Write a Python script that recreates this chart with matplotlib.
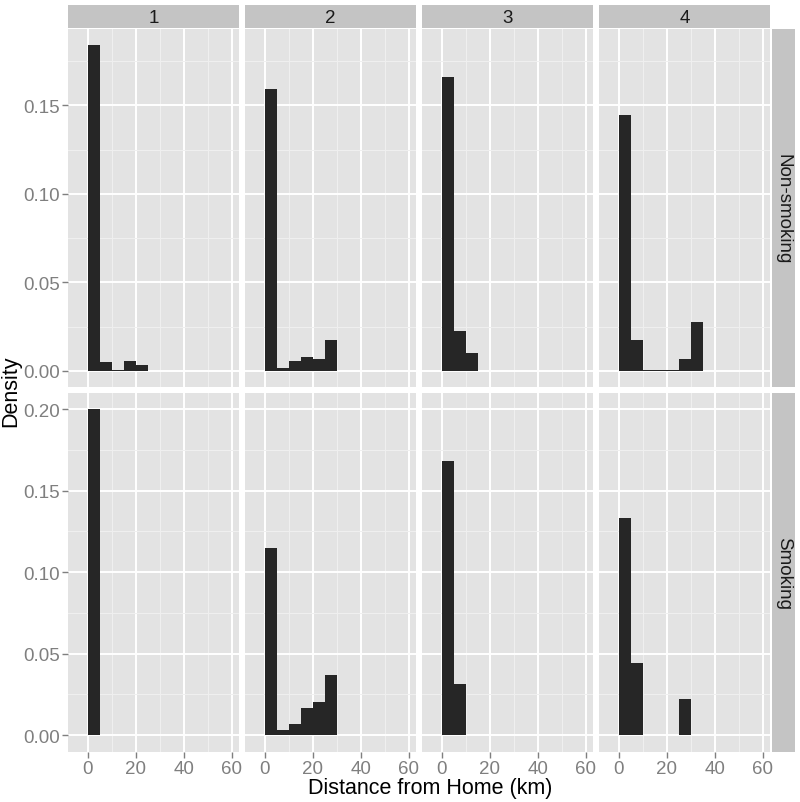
import numpy as np
import matplotlib.pyplot as plt

plt.rcParams['font.family'] = ['Liberation Sans', 'DejaVu Sans']

groups = ['1', '2', '3', '4']
rows = ['Non-smoking', 'Smoking']
bin_left = [0, 5, 10, 15, 20, 25, 30, 35, 40, 45]
binwidth = 5

# density of each 5 km bin
nonsmoking = [
    [0.184, 0.0049, 0.0006, 0.0053, 0.0034, 0, 0, 0, 0, 0],
    [0.159, 0.0013, 0.0055, 0.0079, 0.0066, 0.0174, 0, 0, 0, 0],
    [0.166, 0.0223, 0.0102, 0, 0, 0, 0, 0, 0, 0],
    [0.1444, 0.0174, 0.0002, 0.0002, 0.0002, 0.0066, 0.0276, 0.0001, 0.0001, 0.0001],
]
smoking = [
    [0.200, 0, 0, 0, 0, 0, 0, 0, 0, 0],
    [0.1149, 0.0029, 0.0066, 0.0168, 0.0201, 0.0370, 0, 0, 0, 0],
    [0.168, 0.0313, 0, 0, 0, 0, 0, 0, 0, 0],
    [0.1331, 0.0442, 0, 0, 0, 0.0219, 0, 0, 0, 0],
]
yticks_top = [0.00, 0.05, 0.10, 0.15]
yticks_bottom = [0.00, 0.05, 0.10, 0.15, 0.20]
xticks = [0, 20, 40, 60]

W, H = 800, 803
fig = plt.figure(figsize=(W / 100, H / 100), dpi=100)

panel_bg = '#E3E3E3'
strip_bg = '#C4C4C4'
bar_col = '#262626'
tick_col = '#7F7F7F'

col_x = [68, 245, 422, 599]
pw = 171
row_y = [(30, 388), (394, 753)]


def px(x0, y0, x1, y1):
    return [x0 / W, 1 - y1 / H, (x1 - x0) / W, (y1 - y0) / H]


for r, data in enumerate([nonsmoking, smoking]):
    yt = yticks_top if r == 0 else yticks_bottom
    ylim = (-0.0092, 0.1932) if r == 0 else (-0.0104, 0.210)
    for c in range(4):
        y0, y1 = row_y[r]
        ax = fig.add_axes(px(col_x[c], y0, col_x[c] + pw, y1))
        ax.set_facecolor(panel_bg)
        for s in ax.spines.values():
            s.set_visible(False)
        ax.set_xlim(-8.35, 63.1)
        ax.set_ylim(*ylim)
        ax.set_xticks(xticks)
        ax.set_xticks([10, 30, 50], minor=True)
        ax.set_yticks(yt)
        ax.set_yticks([v + 0.025 for v in yt if v + 0.025 < ylim[1]], minor=True)
        ax.grid(True, which='major', color='white', lw=1.4)
        ax.grid(True, which='minor', color='#F0F0F0', lw=0.7)
        ax.set_axisbelow(True)
        ax.tick_params(which='minor', length=0)
        ax.tick_params(which='major', color=tick_col, labelcolor=tick_col,
                       labelsize=13.5, length=4, width=1, pad=2)
        if c == 0:
            ax.set_yticklabels([f'{v:.2f}' for v in yt])
        else:
            ax.tick_params(axis='y', which='major', length=0, labelleft=False)
        if r == 1:
            ax.set_xticklabels([str(v) for v in xticks])
        else:
            ax.tick_params(axis='x', which='major', length=0, labelbottom=False)
        ax.bar(bin_left, data[c], width=binwidth, align='edge',
               color=bar_col, linewidth=0, zorder=3)

        if r == 0:
            sax = fig.add_axes(px(col_x[c], 6, col_x[c] + pw, 29))
            sax.set_facecolor(strip_bg)
            sax.set_xticks([])
            sax.set_yticks([])
            for s in sax.spines.values():
                s.set_visible(False)
            sax.text(0.5, 0.45, groups[c], ha='center', va='center',
                     fontsize=13.5, color='#1A1A1A', transform=sax.transAxes)

    y0, y1 = row_y[r]
    rax = fig.add_axes(px(772, y0, 795, y1))
    rax.set_facecolor(strip_bg)
    rax.set_xticks([])
    rax.set_yticks([])
    for s in rax.spines.values():
        s.set_visible(False)
    rax.text(0.5, 0.5, rows[r], ha='center', va='center', rotation=-90,
             fontsize=13.5, color='#1A1A1A', transform=rax.transAxes)

fig.text(430 / W, 1 - 789 / H, 'Distance from Home (km)', ha='center',
         va='center', fontsize=15.5, color='black')
fig.text(11 / W, 1 - 391 / H, 'Density', ha='center', va='center',
         rotation=90, fontsize=15.5, color='black')

fig.savefig('out.png', dpi=100, facecolor='white')
